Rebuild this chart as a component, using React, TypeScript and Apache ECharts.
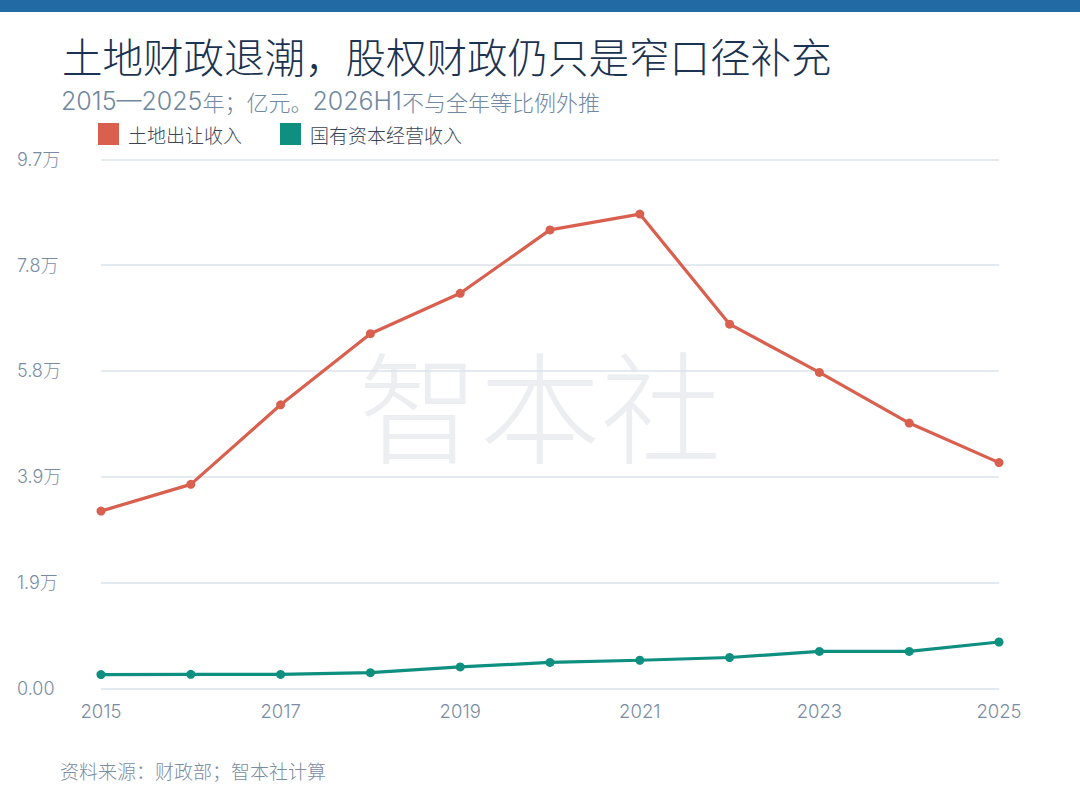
import React, { useEffect, useRef } from "react";
import * as echarts from "echarts";

const years = ["2015", "2016", "2017", "2018", "2019", "2020", "2021", "2022", "2023", "2024", "2025"];
const landSales = [32547, 37457, 52059, 65096, 72517, 84142, 87051, 66854, 57996, 48699, 41450];
const stateCapital = [2551, 2602, 2581, 2906, 3960, 4778, 5180, 5689, 6800, 6800, 8530];
const yMax = 97100;
const yInterval = 19420;

const titleText = "土地财政退潮，股权财政仍只是窄口径补充";
const subtitleParts = ["2015—2025", "年；亿元。", "2026H1", "不与全年等比例外推"];
const sourceText = "资料来源：财政部；智本社计算";
const watermarkText = "智本社";
const seriesNames = ["土地出让收入", "国有资本经营收入"];

const FONT = "Inter, 'Noto Sans CJK SC', sans-serif";
const CJK = "'Noto Sans CJK SC', sans-serif";

export default function App() {
  const ref = useRef<HTMLDivElement>(null);

  useEffect(() => {
    document.body.style.margin = "0";
    if (!ref.current) return;
    const chart = echarts.init(ref.current, undefined, { renderer: "svg" });
    const subtitleRich =
      `{n|${subtitleParts[0]}}{c|${subtitleParts[1]}}{n|${subtitleParts[2]}}{c|${subtitleParts[3]}}`;
    chart.setOption({
      animation: false,
      backgroundColor: "#ffffff",
      textStyle: { fontFamily: FONT },
      graphic: [
        { type: "rect", shape: { x: 0, y: 0, width: 1080, height: 12 }, style: { fill: "#216aa4" }, z: 10 },
        {
          type: "text", x: 62, y: 55, z: 10,
          style: { text: titleText, fill: "#1b3350", font: `300 40.5px ${CJK}`, textVerticalAlign: "middle" },
        },
        {
          type: "text", x: 61, y: 101, z: 10,
          style: {
            text: subtitleRich, fill: "#7088a2", textVerticalAlign: "middle",
            rich: {
              n: { fontFamily: FONT, fontSize: 25, fontWeight: 300, fill: "#7088a2", color: "#7088a2" },
              c: { fontFamily: CJK, fontSize: 22, fontWeight: 300, fill: "#7088a2", color: "#7088a2" },
            },
          },
        },
        {
          type: "text", x: 60, y: 770, z: 10,
          style: { text: sourceText, fill: "#7a8ca3", font: `300 19px ${CJK}`, textVerticalAlign: "middle" },
        },
        {
          type: "text", x: 540, y: 401, z: 0,
          style: {
            text: watermarkText, fill: "#eceef1", font: `300 121px ${CJK}`,
            textAlign: "center", textVerticalAlign: "middle",
          },
        },
      ],
      legend: {
        left: 98, top: 123, padding: 0, icon: "rect", itemWidth: 21, itemHeight: 22, itemGap: 38,
        textStyle: { fontSize: 19, color: "#3a4656", fontFamily: CJK, fontWeight: 300, padding: [0, 0, 0, 4] },
        data: seriesNames,
      },
      grid: { left: 101, right: 81, top: 159.3, bottom: 121.5, containLabel: false },
      xAxis: {
        type: "category", data: years, boundaryGap: false,
        axisLine: { show: false }, axisTick: { show: false },
        axisLabel: { interval: 1, color: "#7a8ca3", fontSize: 18.5, margin: 13, fontFamily: FONT, fontWeight: 300 },
      },
      yAxis: {
        type: "value", min: 0, max: yMax, interval: yInterval,
        axisLine: { show: false }, axisTick: { show: false },
        splitLine: { lineStyle: { color: "#dde3eb", width: 1.5 } },
        axisLabel: {
          color: "#7a8ca3", fontSize: 18, align: "left", margin: 84, fontFamily: FONT, fontWeight: 300,
          formatter: (v: number) => (v === 0 ? "0.00" : (v / 10000).toFixed(1) + "万"),
        },
      },
      series: [
        {
          name: seriesNames[0], type: "line", data: landSales,
          symbol: "circle", symbolSize: 9,
          lineStyle: { color: "#d95f4e", width: 3.2 }, itemStyle: { color: "#d95f4e" }, z: 3,
        },
        {
          name: seriesNames[1], type: "line", data: stateCapital,
          symbol: "circle", symbolSize: 9,
          lineStyle: { color: "#0f8f80", width: 3.2 }, itemStyle: { color: "#0f8f80" }, z: 3,
        },
      ],
    });
    return () => chart.dispose();
  }, []);

  return <div ref={ref} style={{ width: 1080, height: 810 }} />;
}
